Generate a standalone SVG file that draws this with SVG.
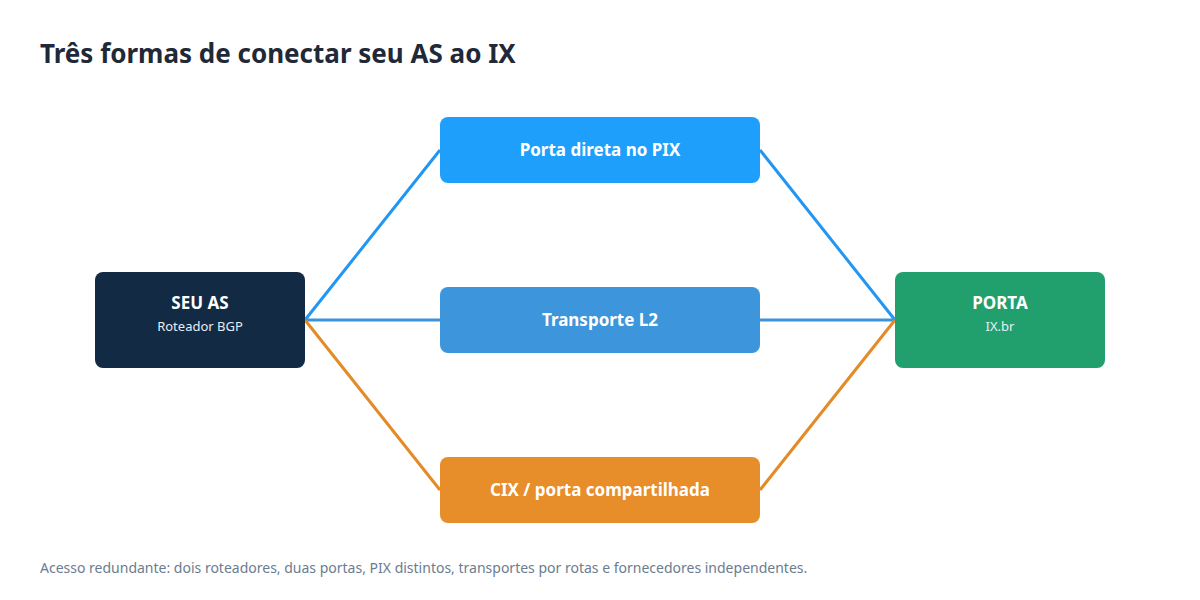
<svg xmlns="http://www.w3.org/2000/svg" width="1200" height="600" viewBox="0 0 1200 600">
<style>
text{font-family:"Noto Sans","Open Sans",sans-serif}
.t{font-size:17px;font-weight:700;fill:#fff;text-anchor:middle}
.s{font-size:13px;fill:#e6edf5;text-anchor:middle}
.c{fill:none;stroke-width:3}
</style>
<rect width="1200" height="600" fill="#fff"/>
<text x="40" y="63" font-size="26" font-weight="700" fill="#1f2937">Três formas de conectar seu AS ao IX</text>
<g id="connectors">
<path class="c" stroke="#2196f3" d="M305 320 L440 150 M760 150 L895 320"/>
<path class="c" stroke="#3b93db" d="M305 320 L440 320 M760 320 L895 320"/>
<path class="c" stroke="#e38b26" d="M305 320 L440 490 M760 490 L895 320"/>
</g>
<g id="seu-as"><rect x="95" y="272" width="210" height="96" rx="8" fill="#132a45"/>
<text class="t" x="200" y="309" font-size="20">SEU AS</text><text class="s" x="200" y="331">Roteador BGP</text></g>
<g id="porta"><rect x="895" y="272" width="210" height="96" rx="8" fill="#21a06e"/>
<text class="t" x="1000" y="309" font-size="20">PORTA</text><text class="s" x="1000" y="331">IX.br</text></g>
<g id="pix"><rect x="440" y="117" width="320" height="66" rx="8" fill="#1e9ffc"/>
<text class="t" x="600" y="156" font-size="20">Porta direta no PIX</text></g>
<g id="l2"><rect x="440" y="287" width="320" height="66" rx="8" fill="#3d95dc"/>
<text class="t" x="600" y="326" font-size="20">Transporte L2</text></g>
<g id="cix"><rect x="440" y="457" width="320" height="66" rx="8" fill="#e78d29"/>
<text class="t" x="600" y="496" font-size="20">CIX / porta compartilhada</text></g>
<text x="40" y="573" font-size="14" fill="#6b7c8f">Acesso redundante: dois roteadores, duas portas, PIX distintos, transportes por rotas e fornecedores independentes.</text>
</svg>
